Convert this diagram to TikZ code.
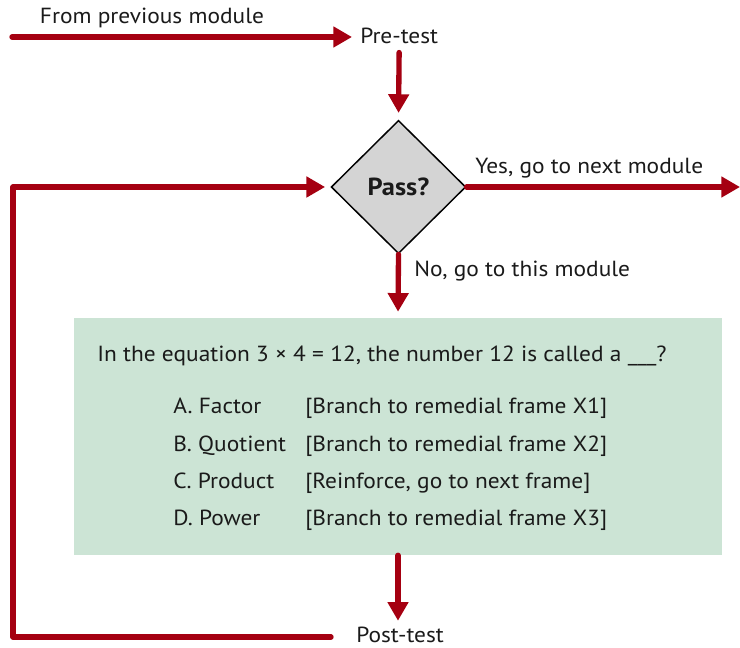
\documentclass[tikz,border=0pt]{standalone}
\usepackage{fontspec}
\setmainfont{PT Sans}[FakeStretch=1.07]
\usetikzlibrary{arrows.meta,shapes.geometric}
\definecolor{flowred}{HTML}{A50011}
\definecolor{quizgreen}{HTML}{CCE4D5}
\definecolor{passgray}{HTML}{D4D4D4}
\definecolor{ink}{HTML}{1A1A1A}
\tikzset{
  flow/.style={draw=flowred, line width=4pt, line cap=round, line join=round,
    -{Triangle[length=14pt,width=15pt]}},
  lbl/.style={font=\fontsize{16.4}{19}\selectfont, text=ink, inner sep=0pt},
}
\begin{document}
\begin{tikzpicture}[x=0.75pt,y=-0.75pt]
    \useasboundingbox (0,0) rectangle (740,648);
    % nodes
    \node[diamond, draw=black, line width=1.1pt, fill=passgray, aspect=1,
      minimum width=101pt, minimum height=100pt, inner sep=0pt,
      font=\fontsize{18.5}{21}\selectfont\bfseries, text=ink](pass)at(398.5,187){Pass?};
    \node[rectangle, fill=quizgreen, minimum width=486pt, minimum height=177.75pt,
      inner sep=0pt](quiz)at(398,436.5){};
    \node[lbl, anchor=base](from)at(152,24){From previous module};
    \node[lbl, anchor=base west](pre)at(360,44){Pre-test};
    \node[lbl, anchor=base west](post)at(356,642.5){Post-test};
    \node[lbl, anchor=base west](yes)at(475,174){Yes, go to next module};
    \node[lbl, anchor=base west](no)at(414,277){No, go to this module};
    \node[lbl, anchor=base west](question)at(97,362){In the equation 3 × 4 = 12, the number 12 is called a \_\_\_?};
    \foreach \i/\ans/\act [evaluate=\i as \yb using 414+37.3*(\i-1)] in
      {1/A. Factor/Branch to remedial frame X1,
       2/B. Quotient/Branch to remedial frame X2,
       3/C. Product/{Reinforce, go to next frame},
       4/D. Power/Branch to remedial frame X3}
      {\node[lbl, anchor=base west](ans\i)at(173,\yb){\ans};
       \node[lbl, anchor=base west](act\i)at(305,\yb){[\act]};}
    \coordinate(start)at(12,37);
    \coordinate(exit)at(740,187);
    \coordinate(loopend)at(331,637);
    \coordinate(loopcorner)at(13,637);
    % connectors
    \draw[flow, shorten >=6pt] (start) -- (start-|pre.west);
    \draw[flow, shorten <=6pt, shorten >=5pt] (pre.south) -- (pass.north);
    \draw[flow] (pass.east) -- (exit);
    \draw[flow, shorten >=4.5pt] (pass.south) -- (quiz.north);
    \draw[flow, shorten >=4.5pt] (quiz.south) -- (quiz.south|-post.north);
    \draw[flow, shorten >=4pt] (loopend) -- (loopcorner) |- (pass.west);
\end{tikzpicture}
\end{document}
